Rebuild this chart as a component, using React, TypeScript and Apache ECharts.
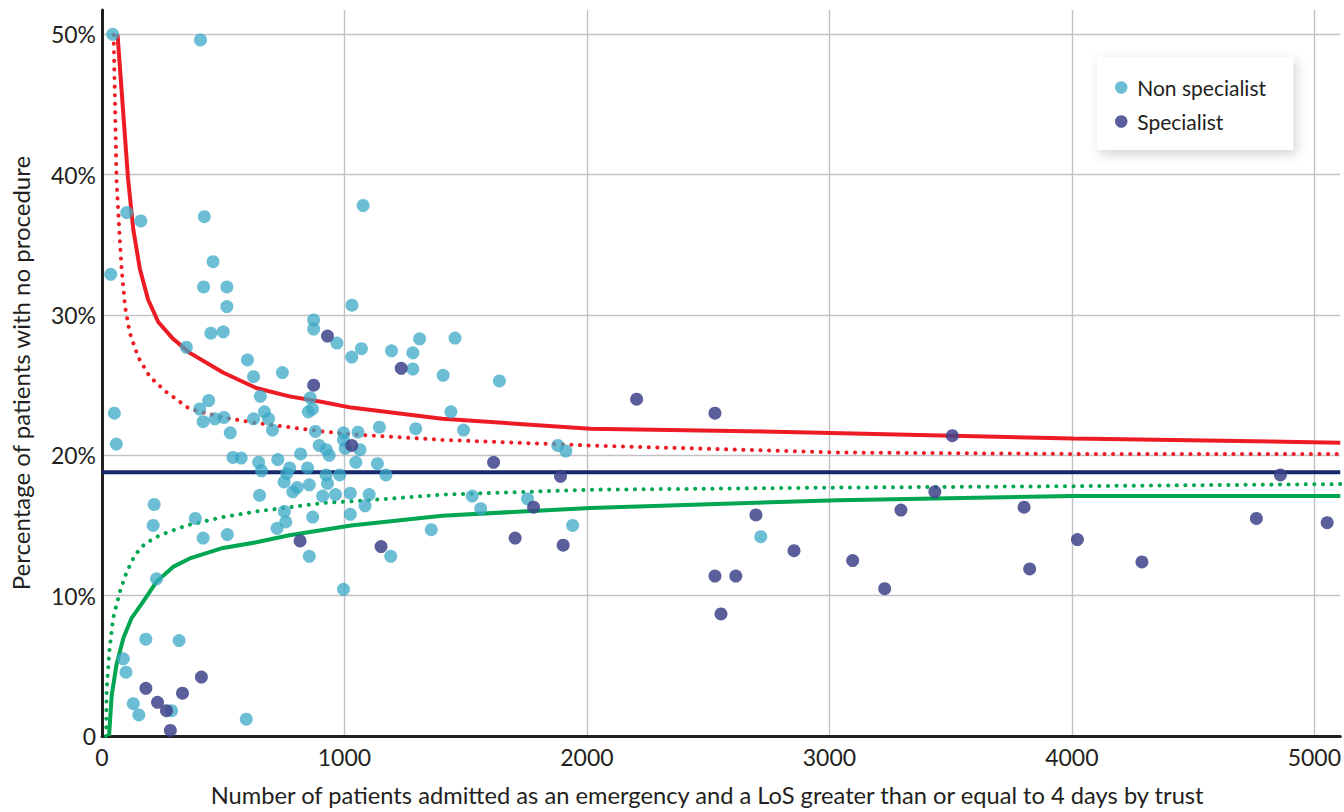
import React, { useEffect, useRef } from "react";
import * as echarts from "echarts";

// [patients admitted (LoS >= 4 days), % with no procedure]
const nonSpecialist: [number, number][] = [
  [44, 50.0], [406, 49.6], [102, 37.3], [160, 36.7], [422, 37.0], [1077, 37.8], [458, 33.8],
  [36, 32.9], [419, 32.0], [515, 32.0], [515, 30.6], [449, 28.7], [500, 28.8], [348, 27.7],
  [600, 26.8], [625, 25.6], [744, 25.9], [653, 24.2], [403, 23.3], [440, 23.9], [417, 22.4],
  [466, 22.6], [503, 22.7], [529, 21.6], [625, 22.6], [670, 23.1], [687, 22.6], [703, 21.8],
  [51, 23.0], [59, 20.8], [873, 29.65], [873, 29.0], [969, 28.0], [1031, 30.7], [1030, 27.0],
  [1070, 27.6], [859, 24.1], [851, 23.1], [868, 23.3], [880, 21.7], [896, 20.7], [925, 20.4],
  [937, 20.0], [996, 21.6], [1056, 21.65], [996, 21.1], [1003, 20.5], [1064, 20.4], [1047, 19.5],
  [819, 20.1], [540, 19.85], [574, 19.8], [646, 19.5], [725, 19.7], [774, 19.1], [848, 19.1],
  [658, 18.9], [924, 18.6], [980, 18.6], [1194, 27.45], [1310, 28.3], [1456, 28.35], [1282, 27.3],
  [1282, 26.15], [1407, 25.7], [1639, 25.3], [1144, 22.0], [1294, 21.9], [1439, 23.1], [1491, 21.8],
  [1136, 19.4], [1171, 18.6], [1880, 20.7], [1913, 20.3], [762, 18.7], [751, 18.1], [650, 17.15],
  [787, 17.4], [805, 17.7], [855, 17.9], [930, 18.0], [910, 17.1], [963, 17.2], [1024, 17.3],
  [1102, 17.2], [1085, 16.4], [752, 16.0], [758, 15.25], [722, 14.8], [869, 15.6], [1024, 15.8],
  [1527, 17.1], [1562, 16.2], [1755, 16.9], [1941, 15.0], [1358, 14.7], [1191, 12.8], [215, 16.5],
  [211, 15.0], [385, 15.5], [417, 14.1], [517, 14.35], [225, 11.2], [855, 12.8], [996, 10.45],
  [181, 6.9], [318, 6.8], [88, 5.5], [99, 4.55], [129, 2.3], [152, 1.5], [287, 1.8], [595, 1.2],
  [2717, 14.2],
];

const specialist: [number, number][] = [
  [930, 28.5], [873, 25.0], [1030, 20.7], [1234, 26.2], [1615, 19.5], [1891, 18.5], [1780, 16.3],
  [1704, 14.1], [1902, 13.6], [817, 13.9], [1151, 13.5], [2205, 24.0], [2528, 23.0], [2697, 15.75],
  [2854, 13.2], [2528, 11.4], [2614, 11.4], [2553, 8.7], [3096, 12.5], [3228, 10.5], [3295, 16.1],
  [3435, 17.4], [3507, 21.4], [3803, 16.3], [3826, 11.9], [4023, 14.0], [4289, 12.4], [4761, 15.5],
  [4860, 18.6], [5053, 15.2], [181, 3.4], [229, 2.4], [266, 1.8], [332, 3.05], [410, 4.2], [282, 0.4],
];

// control limits
const upper998: [number, number][] = [
  [64, 50.0], [107, 39.8], [129, 36.1], [156, 33.3], [190, 31.1], [232, 29.5], [293, 28.3],
  [362, 27.3], [499, 25.9], [636, 24.8], [773, 24.2], [909, 23.8], [1027, 23.4], [1403, 22.6],
  [2014, 21.9], [2870, 21.65], [4004, 21.2], [5107, 20.9],
];
const upper95: [number, number][] = [
  [48, 49.95], [60, 39.6], [71, 36.1], [81, 33.3], [95, 30.6], [115, 28.7], [149, 27.0],
  [197, 25.6], [266, 24.5], [362, 23.3], [499, 22.7], [636, 22.3], [773, 22.0], [910, 21.7],
  [1027, 21.5], [1403, 21.1], [2014, 20.7], [3035, 20.2], [4004, 20.1], [5107, 20.1],
];
const lower95: [number, number][] = [
  [17, 0], [19, 3.2], [30, 6.0], [46, 8.4], [74, 10.3], [102, 11.7], [136, 12.9], [177, 13.7],
  [238, 14.3], [348, 15.0], [499, 15.6], [636, 16.0], [773, 16.3], [910, 16.6], [1102, 16.8],
  [1403, 17.2], [2014, 17.55], [3035, 17.7], [4004, 17.8], [5107, 17.95],
];
const lower998: [number, number][] = [
  [29, 0], [40, 2.9], [60, 5.1], [88, 6.96], [122, 8.4], [167, 9.5], [225, 11.0], [293, 12.05],
  [362, 12.65], [499, 13.4], [636, 13.8], [773, 14.3], [1027, 15.0], [1403, 15.7], [2014, 16.25],
  [3035, 16.8], [4004, 17.1], [5107, 17.1],
];
const meanValue = 18.8;

const xMax = 5107;
const yMax = 51.73;
const xTicks = 1000;
const yTicks = 10;

const FONT = "Lato";
const TEXT = "#231f20";

export default function App() {
  const ref = useRef<HTMLDivElement>(null);
  useEffect(() => {
    document.body.style.margin = "0";
    if (!ref.current) return;
    const chart = echarts.init(ref.current, null, { renderer: "svg" });
    const dotted = { type: [0.1, 8.5] as any, cap: "round" as const, width: 4 };
    const curve = { type: "line" as const, showSymbol: false, symbol: "none", smooth: false, z: 2 };
    chart.setOption({
      animation: false,
      textStyle: { fontFamily: FONT },
      grid: { left: 102, top: 10, right: 0, bottom: 74, containLabel: false },
      legend: {
        data: ["Non specialist", "Specialist"],
        orient: "vertical",
        left: 1097,
        top: 57,
        padding: [20, 27, 18, 18],
        itemGap: 13,
        itemWidth: 22,
        itemHeight: 12.5,
        icon: "circle",
        backgroundColor: "#ffffff",
        shadowBlur: 12,
        shadowColor: "rgba(0,0,0,0.18)",
        shadowOffsetX: 3,
        shadowOffsetY: 4,
        textStyle: { fontSize: 21, color: TEXT, fontFamily: FONT },
      },
      xAxis: {
        type: "value",
        min: 0,
        max: xMax,
        interval: xTicks,
        name: "Number of patients admitted as an emergency and a LoS greater than or equal to 4 days by trust",
        nameLocation: "middle",
        nameGap: 47,
        nameTextStyle: { fontSize: 23.7, color: TEXT, fontFamily: FONT, padding: [0, 28, 0, 0] },
        axisLine: { show: true, lineStyle: { color: TEXT, width: 3 } },
        axisTick: { show: false },
        axisLabel: {
          fontSize: 23,
          color: TEXT,
          fontFamily: FONT,
          margin: 9,
          showMaxLabel: false,
          formatter: (v: number) => (v % xTicks === 0 ? String(v) : ""),
        },
        splitLine: { show: true, showMaxLine: false, lineStyle: { color: "#c2c2c6", width: 1.4 } },
      },
      yAxis: {
        type: "value",
        min: 0,
        max: yMax,
        interval: yTicks,
        name: "Percentage of patients with no procedure",
        nameLocation: "middle",
        nameGap: 70,
        nameTextStyle: { fontSize: 24, color: TEXT, fontFamily: FONT },
        axisLine: { show: true, lineStyle: { color: TEXT, width: 3 } },
        axisTick: { show: false },
        axisLabel: {
          fontSize: 23,
          color: TEXT,
          fontFamily: FONT,
          margin: 6,
          showMaxLabel: false,
          formatter: (v: number) => (v === 0 ? "0" : v % yTicks === 0 ? v + "%" : ""),
        },
        splitLine: { show: true, showMaxLine: false, lineStyle: { color: "#c2c2c6", width: 1.4 } },
      },
      series: [
        { ...curve, name: "Upper 99.8%", data: upper998, lineStyle: { color: "#ed1c24", width: 4 } },
        { ...curve, name: "Upper 95%", data: upper95, lineStyle: { color: "#ed1c24", ...dotted } },
        {
          name: "Mean",
          type: "line",
          data: [[0, meanValue], [xMax, meanValue]],
          showSymbol: false,
          symbol: "none",
          lineStyle: { color: "#17276b", width: 4 },
          z: 2,
        },
        { ...curve, name: "Lower 95%", data: lower95, lineStyle: { color: "#00a651", ...dotted } },
        { ...curve, name: "Lower 99.8%", data: lower998, lineStyle: { color: "#00a651", width: 4 } },
        {
          name: "Non specialist",
          type: "scatter",
          data: nonSpecialist,
          symbol: "circle",
          symbolSize: 13,
          itemStyle: { color: "#3aa8c6", opacity: 0.75 },
          z: 5,
        },
        {
          name: "Specialist",
          type: "scatter",
          data: specialist,
          symbol: "circle",
          symbolSize: 13,
          itemStyle: { color: "#3d438a", opacity: 0.85 },
          z: 6,
        },
      ],
    });
    return () => chart.dispose();
  }, []);
  return <div ref={ref} style={{ width: 1344, height: 812 }} />;
}
